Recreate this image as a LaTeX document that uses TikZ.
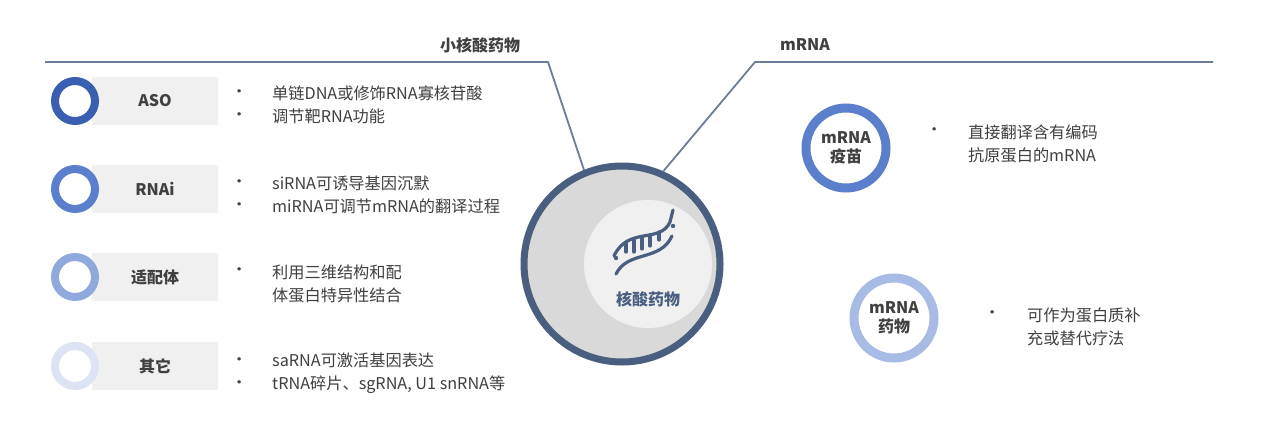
\documentclass[tikz,border=0pt]{standalone}
\usepackage{fontspec}
\setmainfont{Noto Sans CJK SC}
\begin{document}
\begin{tikzpicture}[x=1pt,y=-1pt,
  txt/.style={text=black!75,font=\fontsize{16.2}{23}\selectfont,inner sep=0pt,anchor=west,align=left},
  bul/.style={text=black!75,font=\fontsize{16.2}{23}\selectfont,inner sep=0pt,anchor=west,align=left},
  lbl/.style={text=black!75,font=\fontsize{16}{19}\selectfont\bfseries,inner sep=0pt},
  tag/.style={fill=black!6,minimum width=126pt,minimum height=48pt,inner sep=0pt},
  ring/.style={draw=#1,line width=8pt,fill=white,circle,minimum size=40pt,inner sep=0pt},
  bigring/.style={draw=#1,line width=9pt,fill=white,circle,minimum size=80pt,inner sep=0pt,align=center,font=\fontsize{16}{19}\selectfont\bfseries,text=black!75},
  conn/.style={draw=cn,line width=1.8pt}]
\useasboundingbox[fill=white] (0,0) rectangle (1268,439);
\definecolor{c1}{HTML}{3A5FB0}\definecolor{c2}{HTML}{5B7FCC}
\definecolor{c3}{HTML}{8FA9DC}\definecolor{c4}{HTML}{DCE4F4}
\definecolor{c5}{HTML}{A8BBE4}\definecolor{dk}{HTML}{4A5F80}
\definecolor{cn}{HTML}{6B7D99}
% big circle
\node[circle,draw=dk,line width=7pt,fill=black!15,minimum size=196pt,inner sep=0pt] (big) at (622,264) {};
\node[circle,fill=black!6,minimum size=128pt,inner sep=0pt] (inner) at (648,264) {};
\node[lbl,text=dk] (core) at (648,299) {核酸药物};
% DNA icon
\begin{scope}[draw=dk,line width=3.2pt,line cap=round]
\draw (614,256) .. controls (628,226) and (660,244) .. (670,222) -- (673,210);
\draw (616,274) .. controls (628,250) and (660,262) .. (672,236);
\foreach \x/\a/\b in {626/243/252,634/240/252,642/238/249,650/236/246,659/232/240}
  \draw (\x,\a) -- (\x,\b);
\end{scope}
\fill[dk] (616,258) circle (2.2pt) (673,226) circle (2.2pt);
% connectors
\coordinate (l0) at (45,62); \coordinate (l1) at (548,62);
\coordinate (r0) at (1213,62); \coordinate (r1) at (755,62);
\draw[conn] (l0) -- (l1) -- (big.112);
\draw[conn] (r0) -- (r1) -- (big.66);
\node[lbl] (t1) at (480,45) {小核酸药物};
\node[lbl] (t2) at (805,45) {mRNA};
% left items
\foreach \y/\c/\n/\i in {101/c1/ASO/a,189/c2/RNAi/b,277/c3/适配体/c,366/c4/其它/d}{
  \node[tag] (tag\i) at (155,\y) {};
  \node[ring=\c] (ring\i) at (75,\y) {};
  \node[lbl] (name\i) at (155,\y) {\n};
}
\node[bul] (ba) at (231,105) {•\\•};
\node[txt] (da) at (272,105) {单链DNA或修饰RNA寡核苷酸\\调节靶RNA功能};
\node[bul] (bb) at (231,195) {•\\•};
\node[txt] (db) at (272,195) {siRNA可诱导基因沉默\\miRNA可调节mRNA的翻译过程};
\node[bul] (bc) at (231,272) {•};
\node[txt] (dc) at (272,284) {利用三维结构和配\\体蛋白特异性结合};
\node[bul] (bd) at (231,373) {•\\•};
\node[txt] (dd) at (272,373) {saRNA可激活基因表达\\tRNA碎片、sgRNA, U1 snRNA等};
% right items
\node[bigring=c2] (r1n) at (846,148) {mRNA\\疫苗};
\node[bul] (br1) at (926,132) {•};
\node[txt] (dr1) at (968,144) {直接翻译含有编码\\抗原蛋白的mRNA};
\node[bigring=c5] (r2n) at (894,318) {mRNA\\药物};
\node[bul] (br2) at (984,315) {•};
\node[txt] (dr2) at (1027,327) {可作为蛋白质补\\充或替代疗法};
\end{tikzpicture}
\end{document}
